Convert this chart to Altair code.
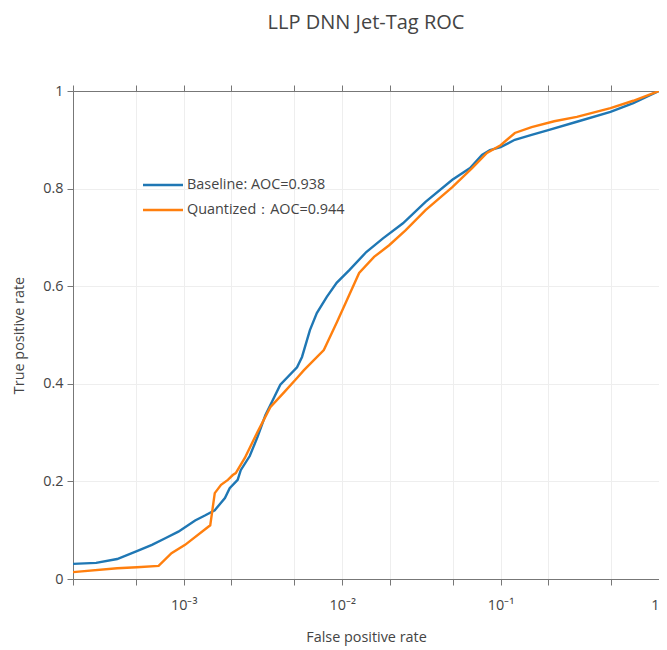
import altair as alt
import pandas as pd

# ---- data ----
base_fpr = [2e-4, 2.8e-4, 3.8e-4, 5.06e-4, 6.3e-4, 7.7e-4, 9.25e-4, 1.18e-3, 1.36e-3,
            1.57e-3, 1.82e-3, 1.95e-3, 2.19e-3, 2.29e-3, 2.61e-3, 2.92e-3, 3.28e-3,
            3.73e-3, 4.07e-3, 5.19e-3, 5.58e-3, 6.26e-3, 6.92e-3, 8.0e-3, 9.23e-3,
            1.11e-2, 1.42e-2, 1.81e-2, 2.42e-2, 3.36e-2, 4.96e-2, 6.42e-2, 7.63e-2,
            8.57e-2, 0.1, 0.123, 0.157, 0.2, 0.303, 0.494, 0.688, 1.0]
base_tpr = [0.031, 0.033, 0.041, 0.057, 0.07, 0.084, 0.097, 0.12, 0.13,
            0.141, 0.166, 0.186, 0.203, 0.223, 0.252, 0.291, 0.336,
            0.373, 0.398, 0.434, 0.455, 0.51, 0.545, 0.578, 0.607,
            0.633, 0.67, 0.698, 0.729, 0.773, 0.818, 0.842, 0.869,
            0.879, 0.885, 0.9, 0.91, 0.92, 0.937, 0.957, 0.975, 1.0]

quant_fpr = [2e-4, 3.8e-4, 5.06e-4, 6.94e-4, 8.37e-4, 1.02e-3, 1.47e-3, 1.57e-3,
             1.72e-3, 1.90e-3, 2.04e-3, 2.13e-3, 2.43e-3, 2.92e-3, 3.52e-3, 4.31e-3,
             5.19e-3, 5.74e-3, 7.66e-3, 9.23e-3, 1.06e-2, 1.28e-2, 1.59e-2, 1.98e-2,
             2.52e-2, 3.36e-2, 4.96e-2, 6.61e-2, 8.2e-2, 0.1, 0.123, 0.157, 0.218,
             0.303, 0.494, 0.688, 1.0]
quant_tpr = [0.014, 0.022, 0.024, 0.027, 0.053, 0.07, 0.11, 0.176,
             0.193, 0.203, 0.213, 0.217, 0.248, 0.301, 0.352, 0.383,
             0.412, 0.428, 0.469, 0.525, 0.568, 0.627, 0.66, 0.684,
             0.715, 0.756, 0.803, 0.842, 0.873, 0.889, 0.914, 0.926, 0.938,
             0.947, 0.965, 0.98, 1.0]

series_names = ["Baseline: AOC=0.938", "Quantized：AOC=0.944"]
series_colors = ["#1f77b4", "#ff7f0e"]

x_tick_values = [2e-4, 5e-4, 1e-3, 2e-3, 5e-3, 1e-2, 2e-2, 5e-2, 0.1, 0.2, 0.5, 1]
x_tick_labels = {0.001: "10⁻³", 0.01: "10⁻²", 0.1: "10⁻¹", 1: "1"}
y_tick_values = [0, 0.2, 0.4, 0.6, 0.8, 1]

title_text = "LLP DNN Jet-Tag ROC"
x_title = "False positive rate"
y_title = "True positive rate"

# ---- build tables ----
df = pd.concat([
    pd.DataFrame({"fpr": base_fpr, "tpr": base_tpr, "series": series_names[0]}),
    pd.DataFrame({"fpr": quant_fpr, "tpr": quant_tpr, "series": series_names[1]}),
], ignore_index=True)

label_expr = " : ".join(
    f"datum.value == {v} ? '{t}'" for v, t in x_tick_labels.items()
) + " : ''"

FONT = "Open Sans"
TXT = "#444444"
LINE = "#777777"

x_scale = alt.Scale(type="log", domain=[2e-4, 1], nice=False)
y_scale = alt.Scale(domain=[0, 1], nice=False)

lines = alt.Chart(df).mark_line(strokeWidth=2.4, clip=True).encode(
    x=alt.X("fpr:Q", scale=x_scale,
            axis=alt.Axis(values=x_tick_values, labelExpr=label_expr, title=x_title,
                          grid=True, tickSize=6, labelPadding=13, titlePadding=19,
                          labelFlush=True, labelOverlap=False)),
    y=alt.Y("tpr:Q", scale=y_scale,
            axis=alt.Axis(values=y_tick_values, format="~g", title=y_title,
                          grid=True, tickSize=6, labelPadding=4, titlePadding=16,
                          labelFlush=False, labelOverlap=False)),
    color=alt.Color("series:N", scale=alt.Scale(domain=series_names, range=series_colors),
                    legend=None),
)

frame = alt.Chart(df).mark_line(opacity=0).encode(
    x=alt.X("fpr:Q", scale=x_scale,
            axis=alt.Axis(orient="top", values=x_tick_values, labels=False, title="",
                          grid=False, tickSize=6)),
    y=alt.Y("tpr:Q", scale=y_scale,
            axis=alt.Axis(orient="right", values=y_tick_values, labels=False, title="",
                          grid=False, tickSize=6)),
)

leg_df = pd.DataFrame({"k": [0]})
legend_layers = []
for i, (name, col) in enumerate(zip(series_names, series_colors)):
    yy = 94 + 25 * i
    legend_layers.append(
        alt.Chart(leg_df).mark_rule(color=col, strokeWidth=2.4).encode(
            x=alt.value(70), x2=alt.value(110), y=alt.value(yy))
    )
    legend_layers.append(
        alt.Chart(leg_df).mark_text(align="left", baseline="middle", font=FONT,
                                    fontSize=14.4, color=TXT).encode(
            x=alt.value(114), y=alt.value(yy), text=alt.value(name))
    )

chart = alt.layer(lines, frame, *legend_layers).resolve_axis(
    x="independent", y="independent"
).properties(
    width=586, height=488,
    padding={"left": 65, "top": 83, "right": 0, "bottom": 69},
    autosize=alt.AutoSizeParams(type="none"),
    title=alt.TitleParams(title_text, font=FONT, fontSize=20, color=TXT,
                          fontWeight="normal", anchor="middle", offset=50),
).configure_axis(
    labelFont=FONT, titleFont=FONT, labelFontSize=14.4, titleFontSize=14.4,
    labelColor=TXT, titleColor=TXT, titleFontWeight="normal",
    domainColor=LINE, tickColor=LINE, gridColor="#eeeeee",
    domainWidth=1, tickWidth=1,
).configure_view(stroke=LINE, strokeWidth=1)

chart.save("out.html", embed_options={"renderer": "svg", "actions": False})
